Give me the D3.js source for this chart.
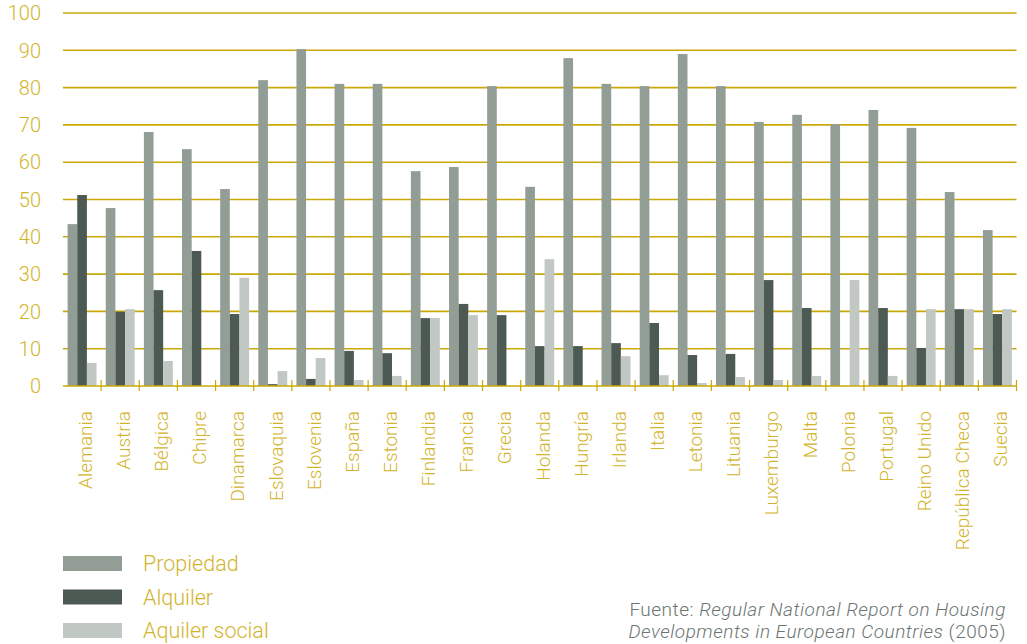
<!DOCTYPE html>
<html>
<head>
<meta charset="utf-8">
<script src="https://cdn.jsdelivr.net/npm/d3@7"></script>
<style>
  html, body { margin: 0; padding: 0; background: #fff; }
  svg { display: block; font-family: Roboto, "Liberation Sans", sans-serif; }
</style>
</head>
<body>
<svg id="chart" width="1027" height="644"></svg>
<script>
// Housing tenure by country (%)
const countries = ["Alemania", "Austria", "Bélgica", "Chipre", "Dinamarca", "Eslovaquia",
  "Eslovenia", "España", "Estonia", "Finlandia", "Francia", "Grecia", "Holanda", "Hungría",
  "Irlanda", "Italia", "Letonia", "Lituania", "Luxemburgo", "Malta", "Polonia", "Portugal",
  "Reino Unido", "República Checa", "Suecia"];

const seriesNames = ["Propiedad", "Alquiler", "Aquiler social"];

const propiedad = [43.4, 47.7, 68.1, 63.5, 52.8, 82.0, 90.3, 81.0, 81.0, 57.6, 58.7, 80.4, 53.4,
  87.9, 81.0, 80.4, 89.0, 80.4, 70.8, 72.7, 70.2, 74.0, 69.2, 52.0, 41.8];
const alquiler = [51.2, 19.9, 25.7, 36.2, 19.3, 0.5, 1.9, 9.4, 8.8, 18.2, 22.0, 19.0, 10.7,
  10.7, 11.5, 16.9, 8.3, 8.6, 28.4, 20.9, 0, 20.9, 10.2, 20.6, 19.3];
const alquilerSocial = [6.2, 20.6, 6.7, 0, 29.0, 4.0, 7.5, 1.6, 2.7, 18.2, 19.0, 0, 34.0,
  0, 8.0, 2.9, 0.8, 2.4, 1.6, 2.7, 28.4, 2.7, 20.6, 20.6, 20.6];

const yTicks = [0, 10, 20, 30, 40, 50, 60, 70, 80, 90, 100];

const seriesValues = [propiedad, alquiler, alquilerSocial];
const colors = ["#929d95", "#4d5a53", "#c1c8c4"];
const gold = "#c9a80a";
const labelGold = "#d2b42c";

const svg = d3.select("#chart");
const plotLeft = 63, plotRight = 1016.5, plotTop = 13, plotBottom = 386;

const x0 = d3.scaleBand().domain(countries).range([plotLeft, plotRight]).padding(0);
const x1 = d3.scaleBand().domain(seriesNames).range([4.6, x0.bandwidth() - 4.6]).padding(0);
const y = d3.scaleLinear().domain([0, 100]).range([plotBottom, plotTop]);

// horizontal gridlines
svg.append("g")
  .selectAll("line")
  .data(yTicks.filter(d => d > 0))
  .join("line")
  .attr("x1", plotLeft).attr("x2", plotRight)
  .attr("y1", d => y(d)).attr("y2", d => y(d))
  .attr("stroke", gold).attr("stroke-width", 1.6);

// y labels
svg.append("g")
  .selectAll("text")
  .data(yTicks)
  .join("text")
  .attr("x", 41)
  .attr("y", d => y(d))
  .attr("dy", "0.36em")
  .attr("text-anchor", "end")
  .attr("fill", labelGold)
  .attr("font-size", 20)
  .attr("font-weight", 300)
  .text(d => d);

// bars
const rows = countries.map((c, i) => ({ country: c, values: seriesNames.map((s, k) => ({ s, k, v: seriesValues[k][i] })) }));
const groups = svg.append("g")
  .selectAll("g")
  .data(rows)
  .join("g")
  .attr("transform", d => `translate(${x0(d.country)},0)`);

groups.selectAll("rect")
  .data(d => d.values)
  .join("rect")
  .attr("x", d => x1(d.s))
  .attr("width", x1.bandwidth())
  .attr("y", d => y(d.v))
  .attr("height", d => y(0) - y(d.v))
  .attr("fill", d => colors[d.k]);

// x axis with boundary ticks
const xAxis = svg.append("g");
xAxis.append("line")
  .attr("x1", plotLeft).attr("x2", plotRight)
  .attr("y1", plotBottom).attr("y2", plotBottom)
  .attr("stroke", gold).attr("stroke-width", 1.6);
xAxis.selectAll("line.tick")
  .data(countries)
  .join("line")
  .attr("class", "tick")
  .attr("x1", d => x0(d) + x0.bandwidth())
  .attr("x2", d => x0(d) + x0.bandwidth())
  .attr("y1", plotBottom - 6).attr("y2", plotBottom + 5)
  .attr("stroke", gold).attr("stroke-width", 1.2);

// rotated category labels
xAxis.selectAll("text")
  .data(countries)
  .join("text")
  .attr("transform", d => `translate(${x0(d) + x0.bandwidth() / 2 + 3},411) rotate(-90)`)
  .attr("dy", "0.36em")
  .attr("text-anchor", "end")
  .attr("fill", labelGold)
  .attr("font-size", 19)
  .attr("font-weight", 300)
  .text(d => d);

// legend
const legend = svg.append("g");
seriesNames.forEach((s, k) => {
  const yy = 556 + k * 33.5;
  legend.append("rect")
    .attr("x", 63).attr("y", yy).attr("width", 59).attr("height", 15)
    .attr("fill", colors[k]);
  legend.append("text")
    .attr("x", 143).attr("y", yy + 7.5)
    .attr("dy", "0.36em")
    .attr("fill", labelGold)
    .attr("font-size", 21.5)
    .attr("font-weight", 300)
    .text(s);
});

// source note
const note = svg.append("g").attr("fill", "#6b7571").attr("font-size", 19)
  .attr("font-weight", 300).attr("letter-spacing", 0.5);
const l1 = note.append("text").attr("x", 1006).attr("y", 616).attr("text-anchor", "end");
l1.append("tspan").text("Fuente: ");
l1.append("tspan").attr("font-style", "italic").text("Regular National Report on Housing");
const l2 = note.append("text").attr("x", 1006).attr("y", 638).attr("text-anchor", "end");
l2.append("tspan").attr("font-style", "italic").text("Developments in European Countries");
l2.append("tspan").text(" (2005)");
</script>
</body>
</html>
